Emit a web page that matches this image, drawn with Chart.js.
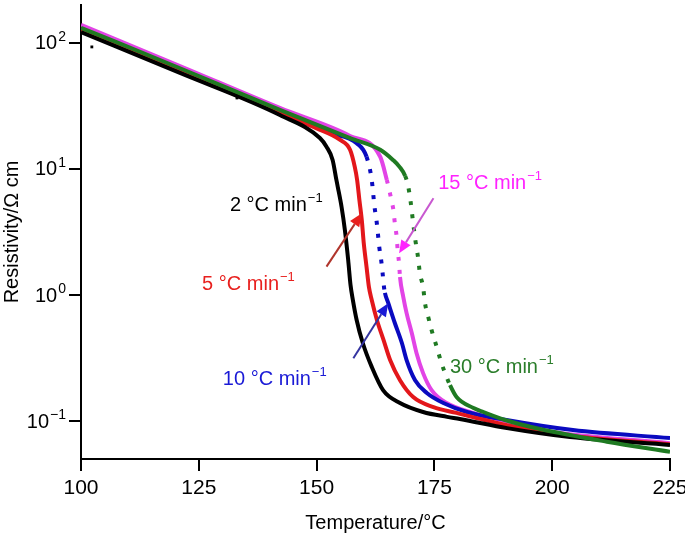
<!DOCTYPE html>
<html>
<head>
<meta charset="utf-8">
<script src="https://cdn.jsdelivr.net/npm/chart.js@4.4.0/dist/chart.umd.min.js"></script>
<style>
  html, body { margin: 0; padding: 0; background: #fff; }
</style>
</head>
<body>
<canvas id="chart" width="685" height="538"></canvas>
<script>
// -------------------------
// Data (temperature in °C, resistivity in Ω cm)
// -------------------------
const xTicks = [100, 125, 150, 175, 200, 225];
const yTickValues = [0.1, 1, 10, 100];
const yTickExps = ['\u22121', '0', '1', '2'];

const t2 = [100, 121, 142.2, 150.7, 152.1, 153.4, 154.2, 154.5, 155.3, 156.0, 156.7, 157.2, 157.7, 158.5, 159.8, 161.7, 164.1, 167.7, 172.6, 177.7, 180.4, 190.4, 203.8, 225];
const r2 = [122, 57.8, 26.8, 17.6, 15.0, 11.8, 8.19, 7.19, 4.99, 3.28, 1.90, 1.20, 0.912, 0.634, 0.416, 0.269, 0.176, 0.139, 0.118, 0.108, 0.104, 0.0879, 0.0746, 0.0646];

const t5 = [100, 121, 142.2, 149.9, 155.0, 157.1, 158.1, 158.6, 159.1, 159.6, 160.0, 160.6, 161.1, 161.7, 162.8, 164.2, 165.6, 167.7, 170.5, 174.8, 179.7, 184.7, 190.4, 204.4, 225];
const r5 = [126, 58.9, 27.8, 21.1, 17.0, 14.2, 10.4, 8.19, 5.6, 3.9, 2.6, 1.67, 1.16, 0.912, 0.634, 0.440, 0.305, 0.211, 0.155, 0.129, 0.116, 0.104, 0.0929, 0.0760, 0.0655];

const t10 = [100, 121, 142.2, 152.8, 158.5, 160.6, 161.7, 162.3, 162.7, 163.0, 163.3, 163.7, 164.0, 164.3, 164.5, 165.2, 166.6, 168.1, 169.1, 170.9, 173.4, 176.9, 181.9, 190.3, 204.4, 225];
const r10 = [129, 60.0, 28.3, 19.3, 16.0, 12.5, 8.19, 4.99, 3.94, 3.10, 2.40, 1.90, 1.50, 1.16, 1.04, 0.865, 0.600, 0.416, 0.305, 0.211, 0.167, 0.139, 0.118, 0.102, 0.0849, 0.0733];

const t15 = [100, 121, 142.2, 157.1, 163.5, 164.9, 165.5, 165.9, 166.3, 166.6, 167.0, 167.2, 167.5, 167.7, 168.4, 169.1, 170.2, 171.2, 172.6, 174.4, 177.6, 183.2, 190, 197.4, 225];
const r15 = [139, 65.6, 30.5, 18.3, 12.5, 8.19, 6.6, 5.6, 4.73, 3.72, 2.88, 2.28, 1.79, 1.39, 0.964, 0.719, 0.499, 0.347, 0.240, 0.176, 0.139, 0.116, 0.100, 0.0849, 0.0668];

const t30 = [100, 121, 142.2, 157.1, 163.5, 166.2, 167.6, 168.8, 169.4, 169.9, 170.5, 170.9, 171.6, 171.9, 172.6, 173.0, 173.7, 174.4, 175.5, 176.5, 177.6, 178.3, 179.7, 183.3, 185.4, 190, 197.4, 211.6, 225];
const r30 = [132, 63.0, 29.4, 17.6, 14.2, 11.8, 10.4, 8.8, 7.4, 5.7, 3.71, 2.82, 1.90, 1.50, 1.16, 0.865, 0.668, 0.527, 0.386, 0.288, 0.223, 0.193, 0.155, 0.127, 0.118, 0.102, 0.0865, 0.0686, 0.0571];

// stray points of the 2 °C min-1 run
const tStray = [102.3, 133.1];
const rStray = [93, 36.6];

// -------------------------
// Helpers
// -------------------------
const FONT = '"Liberation Sans", Arial, Helvetica, sans-serif';

function pts(xs, ys) {
    return xs.map((x, i) => ({ x: x, y: ys[i] }));
}

// dotted where the logger sampled sparsely (steep part)
function dotted(from, to) {
    return ctx => (ctx.p0.parsed.x >= from && ctx.p1.parsed.x <= to) ? [4, 9] : undefined;
}

function series(label, xs, ys, color, order, dots) {
    const ds = {
        label: label,
        data: pts(xs, ys),
        borderColor: color,
        backgroundColor: color,
        borderWidth: 4,
        pointRadius: 0,
        cubicInterpolationMode: 'monotone',
        order: order
    };
    if (dots) ds.segment = { borderDash: dotted(dots[0], dots[1]) };
    return ds;
}

function drawPower(ctx, base, exp, x, y, color, size, supSize, raise, alignRight) {
    ctx.fillStyle = color;
    ctx.textBaseline = 'middle';
    ctx.textAlign = 'left';
    ctx.font = size + 'px ' + FONT;
    const bw = ctx.measureText(base).width;
    ctx.font = supSize + 'px ' + FONT;
    const ew = ctx.measureText(exp).width;
    const x0 = alignRight ? x - bw - ew - 1 : x;
    ctx.font = size + 'px ' + FONT;
    ctx.fillText(base, x0, y);
    ctx.font = supSize + 'px ' + FONT;
    ctx.fillText(exp, x0 + bw + 1, y - raise);
}

function drawArrow(ctx, x1, y1, x2, y2, lineColor, headColor) {
    const a = Math.atan2(y2 - y1, x2 - x1);
    const len = 13, half = 5.5;
    const bx = x2 - len * Math.cos(a), by = y2 - len * Math.sin(a);
    ctx.strokeStyle = lineColor;
    ctx.lineWidth = 2;
    ctx.beginPath();
    ctx.moveTo(x1, y1);
    ctx.lineTo(bx, by);
    ctx.stroke();
    ctx.fillStyle = headColor;
    ctx.beginPath();
    ctx.moveTo(x2, y2);
    ctx.lineTo(bx + half * Math.sin(a), by - half * Math.cos(a));
    ctx.lineTo(bx - half * Math.sin(a), by + half * Math.cos(a));
    ctx.closePath();
    ctx.fill();
}

// -------------------------
// Annotations (data coordinates)
// -------------------------
const labels = [
    { text: '2 \u00B0C min', x: 131.6, y: 5.18, color: '#000000' },
    { text: '5 \u00B0C min', x: 125.7, y: 1.22, color: '#e8201e' },
    { text: '10 \u00B0C min', x: 130.1, y: 0.215, color: '#1a1ad6' },
    { text: '15 \u00B0C min', x: 175.8, y: 7.74, color: '#ff22ff' },
    { text: '30 \u00B0C min', x: 178.3, y: 0.264, color: '#2a7d2a' }
];

const arrows = [
    { x1: 152.1, y1: 1.68, x2: 159.6, y2: 4.45, line: '#b0352c', head: '#e8201e' },
    { x1: 157.8, y1: 0.315, x2: 165.2, y2: 0.859, line: '#3434a0', head: '#1a1ad6' },
    { x1: 174.8, y1: 5.85, x2: 167.5, y2: 2.14, line: '#c858d0', head: '#ff22ff' }
];

const overlay = {
    id: 'overlay',
    afterDraw(chart) {
        const ctx = chart.ctx;
        const xs = chart.scales.x, ys = chart.scales.y;
        ctx.save();
        // y tick labels as powers of ten
        yTickValues.forEach((v, i) => {
            drawPower(ctx, '10', yTickExps[i], 66, ys.getPixelForValue(v) + 1, '#000', 20, 14, 7, true);
        });
        arrows.forEach(a => {
            drawArrow(ctx, xs.getPixelForValue(a.x1), ys.getPixelForValue(a.y1),
                xs.getPixelForValue(a.x2), ys.getPixelForValue(a.y2), a.line, a.head);
        });
        labels.forEach(l => {
            drawPower(ctx, l.text, '\u22121', xs.getPixelForValue(l.x), ys.getPixelForValue(l.y),
                l.color, 20, 13, 7, false);
        });
        ctx.restore();
    }
};

// -------------------------
// Chart
// -------------------------
const datasets = [
    series('30 °C min-1', t30, r30, '#1f7a22', 1, [168.0, 178.4]),
    series('2 °C min-1', t2, r2, '#000000', 2),
    series('5 °C min-1', t5, r5, '#e3171b', 3),
    series('10 °C min-1', t10, r10, '#0a0ac0', 4, [160.5, 164.6]),
    series('15 °C min-1', t15, r15, '#e244e6', 5, [164.8, 168.3]),
    {
        label: 'stray',
        data: pts(tStray, rStray),
        showLine: false,
        pointStyle: 'rect',
        pointRadius: 2,
        borderWidth: 0,
        backgroundColor: '#000',
        order: 0
    }
];

const axisGrid = { drawOnChartArea: false, drawTicks: true, tickLength: 12, color: '#000', lineWidth: 2 };

new Chart(document.getElementById('chart').getContext('2d'), {
    type: 'line',
    data: { datasets: datasets },
    options: {
        responsive: false,
        animation: false,
        layout: { padding: { top: 5, right: 15, left: 0, bottom: 0 } },
        plugins: { legend: { display: false }, tooltip: { enabled: false } },
        scales: {
            x: {
                type: 'linear',
                min: xTicks[0],
                max: xTicks[xTicks.length - 1],
                afterBuildTicks: s => { s.ticks = xTicks.map(v => ({ value: v })); },
                afterFit: s => { s.height = 79; s.paddingLeft = 0; s.paddingRight = 0; },
                grid: axisGrid,
                border: { display: true, color: '#000', width: 2 },
                ticks: { color: '#000', font: { family: FONT, size: 21 }, padding: 5, maxRotation: 0 },
                title: {
                    display: true,
                    text: 'Temperature/\u00B0C',
                    color: '#000',
                    font: { family: FONT, size: 20 },
                    padding: { top: 0, bottom: 3 }
                }
            },
            y: {
                type: 'logarithmic',
                min: 0.05,
                max: 200,
                afterBuildTicks: s => { s.ticks = yTickValues.map(v => ({ value: v })); },
                afterFit: s => { s.width = 81; s.paddingTop = 0; s.paddingBottom = 0; },
                grid: axisGrid,
                border: { display: true, color: '#000', width: 2 },
                ticks: { callback: () => '' },
                title: {
                    display: true,
                    text: 'Resistivity/\u03A9 cm',
                    color: '#000',
                    font: { family: FONT, size: 20 },
                    padding: { top: 0, bottom: 0 }
                }
            }
        }
    },
    plugins: [overlay]
});
</script>
</body>
</html>
